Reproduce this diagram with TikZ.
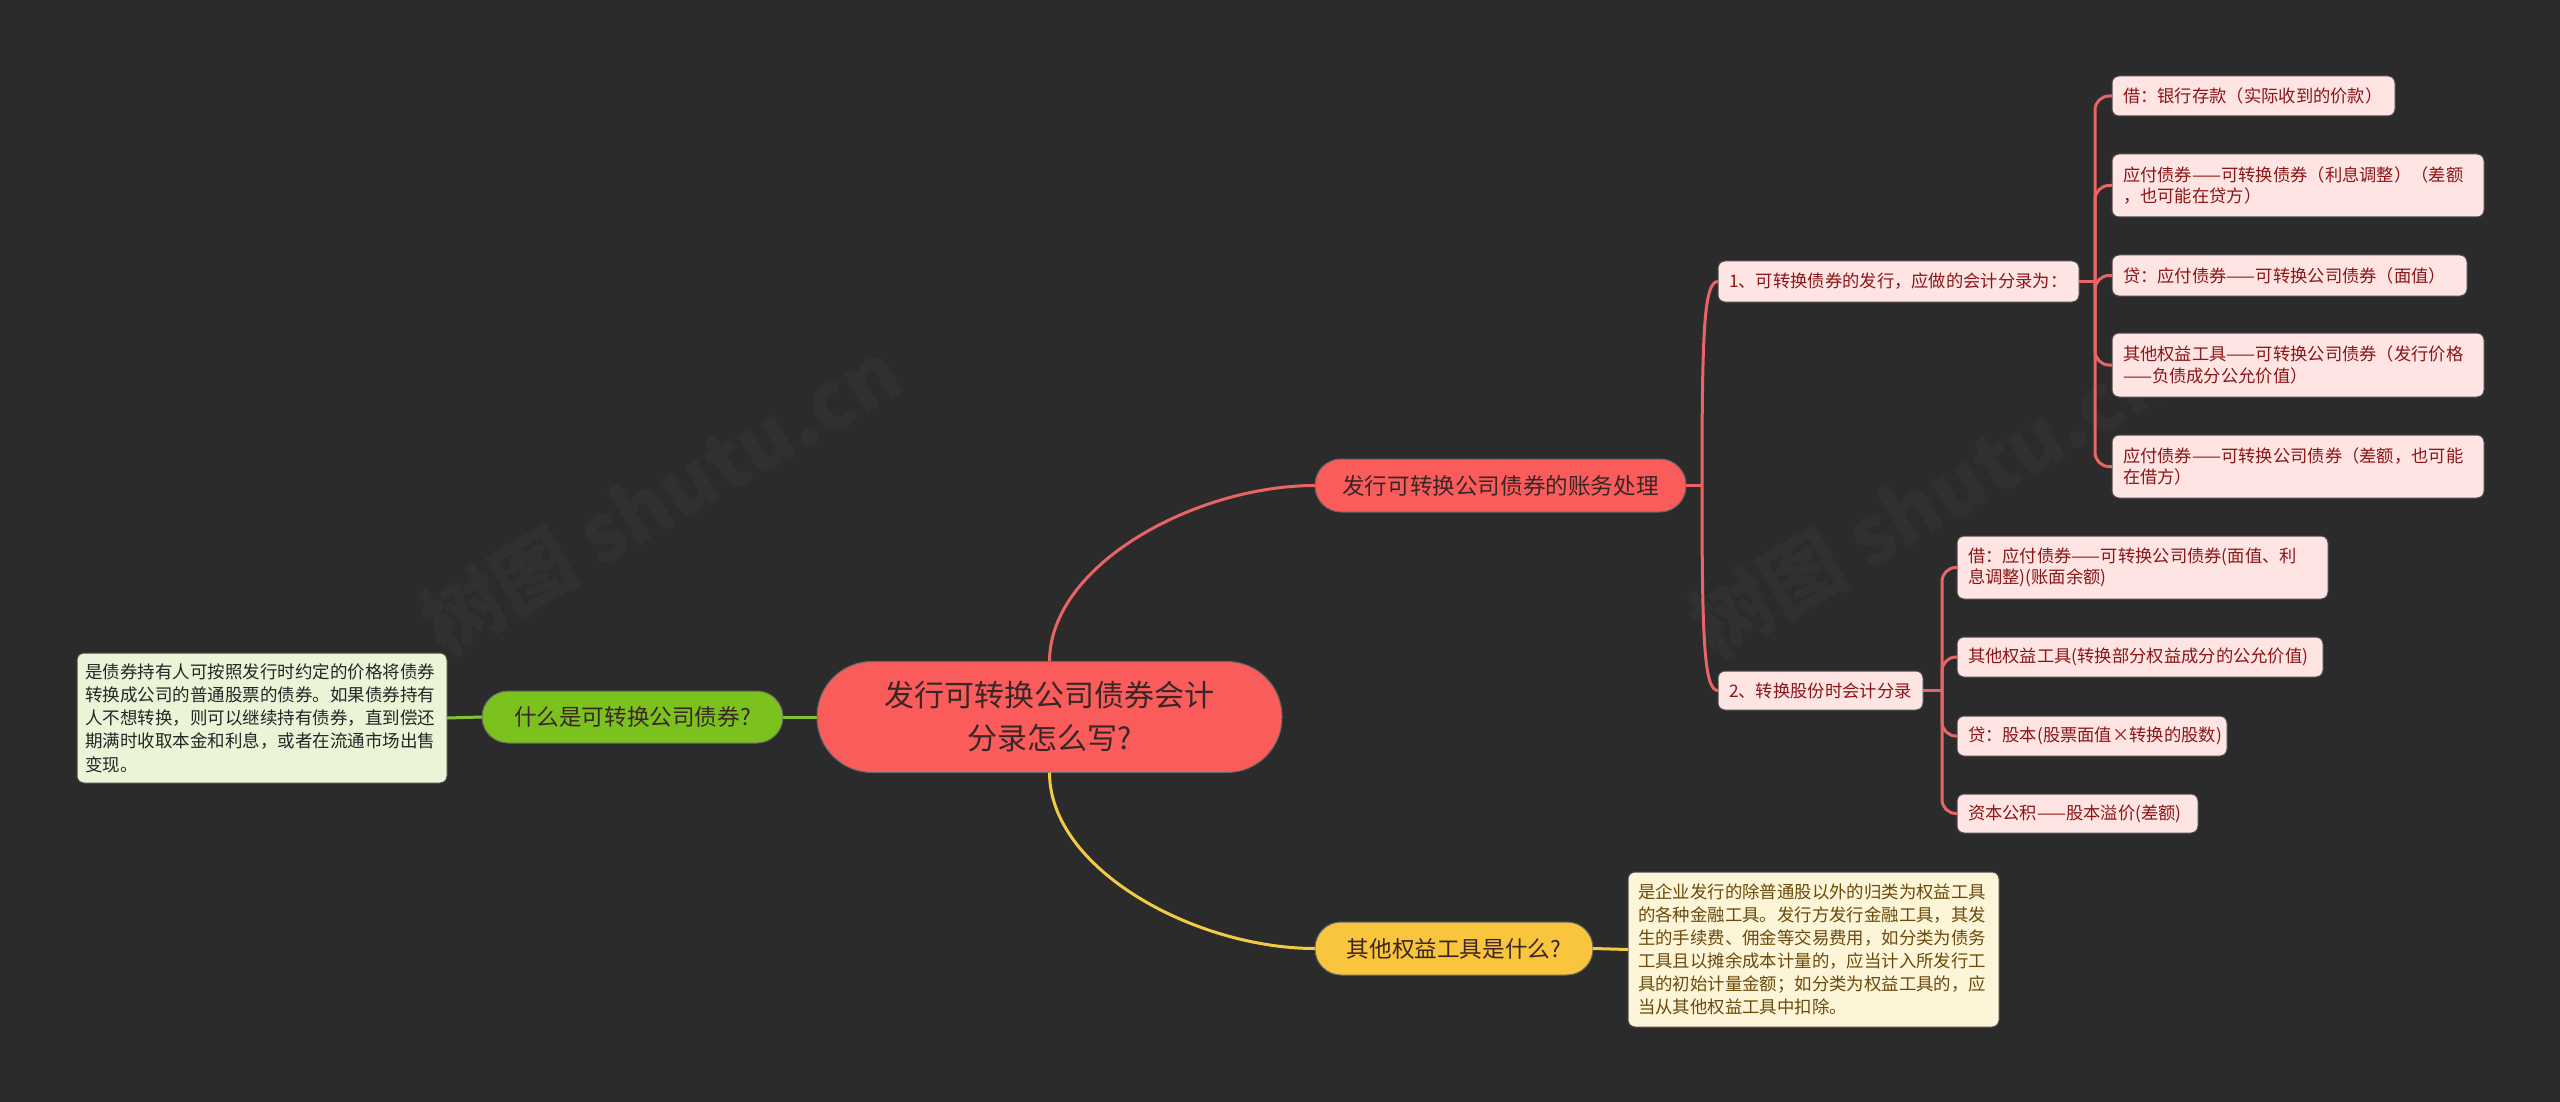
\documentclass[tikz,border=0pt]{standalone}
\usepackage{fontspec}
\setmainfont{Noto Sans CJK SC}
\definecolor{bg}{HTML}{2B2B2B}
\definecolor{mainred}{HTML}{FA5C5C}
\definecolor{linered}{HTML}{E96565}
\definecolor{leafpink}{HTML}{FFE4E4}
\definecolor{leaftext}{HTML}{8A1616}
\definecolor{darktext}{HTML}{3A2626}
\definecolor{greenmain}{HTML}{7CC21F}
\definecolor{greenline}{HTML}{84C235}
\definecolor{greenleaf}{HTML}{EAF5D7}
\definecolor{yellowmain}{HTML}{F9C53C}
\definecolor{yellowline}{HTML}{F2CB45}
\definecolor{yellowleaf}{HTML}{FDF5D8}
\definecolor{yellowtext}{HTML}{6B4A0C}
\definecolor{wmark}{HTML}{303030}
\begin{document}
\begin{tikzpicture}[x=1pt,y=-1pt,
  every node/.style={inner sep=0pt, outer sep=0pt},
  rootbox/.style={rectangle, rounded corners=55pt, fill=mainred, draw=black!60, line width=1pt,
    text=darktext, font=\fontsize{30}{43}\selectfont, align=center,
    minimum width=465pt, minimum height=111pt},
  topic/.style={rectangle, rounded corners=26pt, draw=black!60, line width=1pt,
    text=darktext, font=\fontsize{22.6}{28}\selectfont, align=center, minimum height=53pt},
  leaf/.style={rectangle, rounded corners=7pt, fill=leafpink, draw=black!70, line width=1pt,
    text=leaftext, font=\fontsize{17.3}{21.7}\selectfont, align=left,
    inner xsep=11pt, minimum height=#1},
  leaf/.default=41pt,
  redline/.style={draw=linered, line width=3pt},
  gline/.style={draw=greenline, line width=3pt},
  yline/.style={draw=yellowline, line width=3pt}
]
\fill[bg] (0,0) rectangle (2560,1102);

% watermarks
\node[text=wmark, font=\fontsize{80}{80}\selectfont\bfseries, rotate=30] (wm1) at (661,498) {树图 shutu.cn};
\node[text=wmark, font=\fontsize{80}{80}\selectfont\bfseries, rotate=30] (wm2) at (1930,500) {树图 shutu.cn};

% root
\node[rootbox] (root) at (1049.5,717) {发行可转换公司债券会计\\分录怎么写?};

% main topics
\node[topic, fill=mainred, minimum width=371pt] (b1) at (1500.5,485.5) {发行可转换公司债券的账务处理};
\node[topic, fill=greenmain, minimum width=301pt, minimum height=52pt] (b2) at (632.5,717) {什么是可转换公司债券?};
\node[topic, fill=yellowmain, minimum width=278pt] (b3) at (1454,948.5) {其他权益工具是什么?};

% sub topics
\node[leaf, text width=339pt] (s1) at (1898.5,281.5) {1、可转换债券的发行，应做的会计分录为：};
\node[leaf=39pt, text width=183pt] (s2) at (1820.5,690.5) {2、转换股份时会计分录};

% leaves of s1
\node[leaf=40pt, text width=261pt] (l1) at (2253.5,96) {借：银行存款（实际收到的价款）};
\node[leaf=63pt, text width=350pt] (l2) at (2298,185.5) {应付债券——可转换债券（利息调整）（差额\\，也可能在贷方）};
\node[leaf=41pt, text width=333pt] (l3) at (2289.5,275.5) {贷：应付债券——可转换公司债券（面值）};
\node[leaf=64pt, text width=350pt] (l4) at (2298,365) {其他权益工具——可转换公司债券（发行价格\\——负债成分公允价值）};
\node[leaf=63pt, text width=350pt] (l5) at (2298,466.5) {应付债券——可转换公司债券（差额，也可能\\在借方）};

% leaves of s2
\node[leaf=63pt, text width=349pt] (la) at (2142.5,567.5) {借：应付债券——可转换公司债券(面值、利\\息调整)(账面余额)};
\node[leaf=40pt, text width=344pt] (lb) at (2140,657) {其他权益工具(转换部分权益成分的公允价值)};
\node[leaf=40pt, text width=248pt] (lc) at (2092,736) {贷：股本(股票面值×转换的股数)};
\node[leaf=39pt, text width=219pt] (ld) at (2077.5,813.5) {资本公积——股本溢价(差额)};

% green leaf
\node[rectangle, rounded corners=7pt, fill=greenleaf, draw=black!70, line width=1pt,
  text=black!85, font=\fontsize{17.5}{23.3}\selectfont, align=left,
  inner xsep=8pt, text width=354pt, minimum height=130pt] (gl) at (262,718)
  {是债券持有人可按照发行时约定的价格将债券\\转换成公司的普通股票的债券。如果债券持有\\人不想转换，则可以继续持有债券，直到偿还\\期满时收取本金和利息，或者在流通市场出售\\变现。};

% yellow leaf
\node[rectangle, rounded corners=7pt, fill=yellowleaf, draw=black!70, line width=1pt,
  text=yellowtext, font=\fontsize{17.4}{23}\selectfont, align=left,
  inner xsep=10pt, text width=351pt, minimum height=155pt] (yl) at (1813.5,949.5)
  {是企业发行的除普通股以外的归类为权益工具\\的各种金融工具。发行方发行金融工具，其发\\生的手续费、佣金等交易费用，如分类为债务\\工具且以摊余成本计量的，应当计入所发行工\\具的初始计量金额；如分类为权益工具的，应\\当从其他权益工具中扣除。};

% connectors root
\draw[redline] (root.north) .. controls (1049.5,564.7) and (1195.5,485.5) .. (b1.west);
\draw[yline] (root.south) .. controls (1049.5,869.5) and (1195.5,948.5) .. (b3.west);
\draw[gline] (root.west) -- (b2.east);
\draw[gline] (b2.west) -- (gl.east);
\draw[yline] (b3.east) -- (yl.west);

% branch 1 trunk
\coordinate (t1) at (1702,485.5);
\draw[redline] (b1.east) -- (t1);
\draw[redline] (t1) .. controls (1702,330) and (1704,281.5) .. (s1.west);
\draw[redline] (t1) .. controls (1702,640) and (1704,690.5) .. (s2.west);

% s1 trunk
\coordinate (t2) at (2095,281.5);
\draw[redline] (s1.east) -- (t2);
\foreach \n in {l1,l2,l3,l4,l5}{
  \draw[redline, rounded corners=14pt] (t2) |- (\n.west);
}

% s2 trunk
\coordinate (t3) at (1942,690.5);
\draw[redline] (s2.east) -- (t3);
\foreach \n in {la,lb,lc,ld}{
  \draw[redline, rounded corners=14pt] (t3) |- (\n.west);
}
\end{tikzpicture}
\end{document}
